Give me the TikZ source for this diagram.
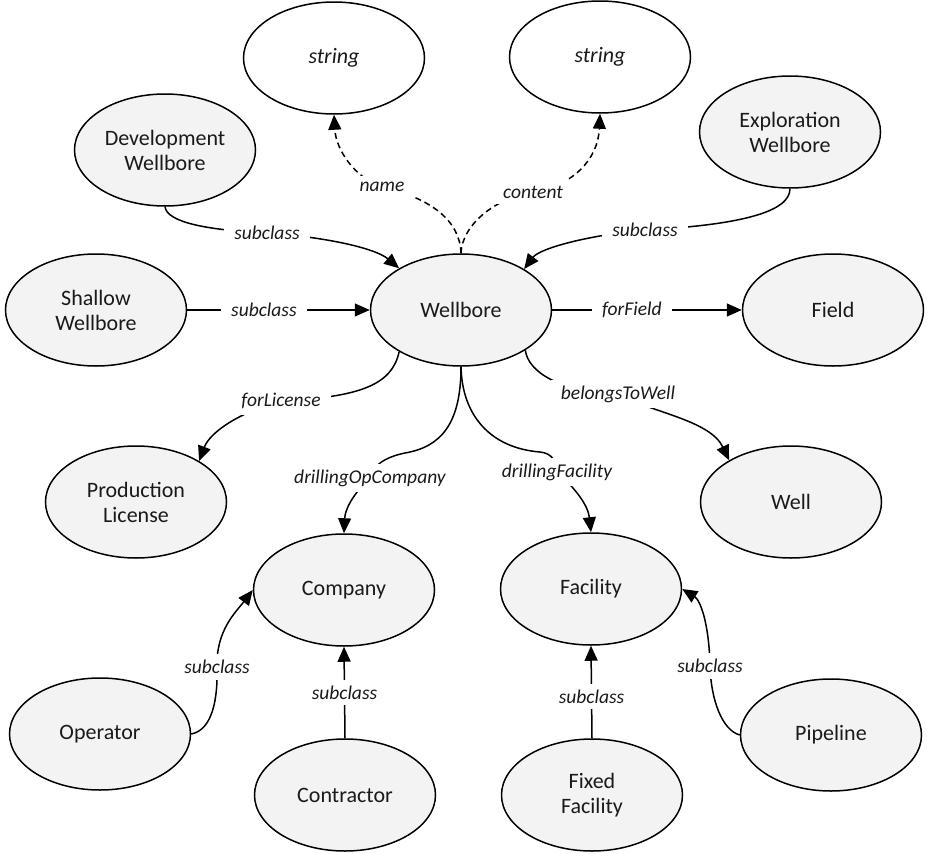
\documentclass[tikz,border=0pt]{standalone}
\usepackage{fontspec}
\setmainfont{Carlito}
\usetikzlibrary{shapes.geometric,arrows.meta}
\definecolor{nodefill}{HTML}{F3F3F3}
\definecolor{txt}{HTML}{1A1A1A}
\begin{document}
\begin{tikzpicture}[x=1pt,y=-1pt,
  cls/.style={ellipse,draw=black,line width=1.5pt,fill=nodefill,minimum width=181pt,minimum height=112pt,inner sep=0pt,align=center,font=\fontsize{22}{25}\selectfont,text=txt},
  lit/.style={cls,fill=white,font=\fontsize{22}{25}\selectfont\itshape},
  lbl/.style={fill=white,inner xsep=10pt,inner ysep=6pt,font=\fontsize{19.5}{22}\selectfont\itshape,text=txt},
  con/.style={line width=1.5pt,draw=black},
  arr/.style={con,-{Triangle[length=15pt,width=13pt]}},
  dsh/.style={arr,dash pattern=on 6pt off 4pt}
]
\useasboundingbox (0,0) rectangle (927,854);

\node[lit] (s1) at (334,58) {string};
\node[lit] (s2) at (600,57) {string};
\node[cls] (dev) at (165,150) {Development\\Wellbore};
\node[cls] (exp) at (790,132) {Exploration\\Wellbore};
\node[cls] (sha) at (96,310) {Shallow\\Wellbore};
\node[cls] (wb) at (461,310) {Wellbore};
\node[cls] (fld) at (833,310) {Field};
\node[cls] (pl) at (136,502) {Production\\License};
\node[cls] (well) at (791,502) {Well};
\node[cls] (cmp) at (344,590) {Company};
\node[cls] (fac) at (591,589) {Facility};
\node[cls] (op) at (100,734) {Operator};
\node[cls] (ctr) at (345,795) {Contractor};
\node[cls] (ff) at (592,795) {Fixed\\Facility};
\node[cls] (pipe) at (831,735) {Pipeline};

% dashed attribute links
\draw[dsh] (wb.north) .. controls (460,220) and (430,198) .. (382,187) node[lbl]{name}
  .. controls (355,178) and (336,150) .. (s1.south);
\draw[dsh] (wb.north) .. controls (462,225) and (495,198) .. (533,192) node[lbl]{content}
  .. controls (572,186) and (598,160) .. (s2.south);

% subclasses of Wellbore
\draw[arr] (dev.south) .. controls (167,222) and (205,230) .. (267,233) node[lbl]{subclass}
  .. controls (325,237) and (375,248) .. (wb.146);
\draw[arr] (exp.south) .. controls (790,212) and (740,225) .. (645,230) node[lbl]{subclass}
  .. controls (590,235) and (540,248) .. (wb.33);
\draw[arr] (sha.east) -- node[lbl,pos=0.42]{subclass} (wb.west);

% properties of Wellbore
\draw[arr] (wb.east) -- node[lbl,pos=0.42]{forField} (fld.west);
\draw[arr] (wb.214) .. controls (392,385) and (360,397) .. (281,401) node[lbl]{forLicense}
  .. controls (240,412) and (210,432) .. (pl.33);
\draw[arr] (wb.south) .. controls (461,425) and (440,447) .. (405,453)
  .. controls (385,457) and (372,466) .. (370,478) node[lbl]{drillingOpCompany}
  .. controls (352,495) and (345,510) .. (cmp.north);
\draw[arr] (wb.south) .. controls (462,415) and (490,448) .. (540,452)
  .. controls (552,453) and (557,462) .. (557,472) node[lbl]{drillingFacility}
  .. controls (575,488) and (588,505) .. (fac.north);
\draw[arr] (wb.328) .. controls (528,372) and (560,392) .. (618,394) node[lbl]{belongsToWell}
  .. controls (650,412) and (710,420) .. (well.146);

% subclasses of Company and Facility
\draw[arr] (op.east) .. controls (212,730) and (218,700) .. (217,667) node[lbl]{subclass}
  .. controls (216,630) and (236,612) .. (cmp.west);
\draw[arr] (ctr.north) -- node[lbl]{subclass} (cmp.south);
\draw[arr] (ff.north) -- node[lbl,pos=0.45]{subclass} (fac.south);
\draw[arr] (pipe.west) .. controls (722,730) and (711,700) .. (710,666) node[lbl]{subclass}
  .. controls (709,622) and (700,600) .. (fac.east);
\end{tikzpicture}
\end{document}
